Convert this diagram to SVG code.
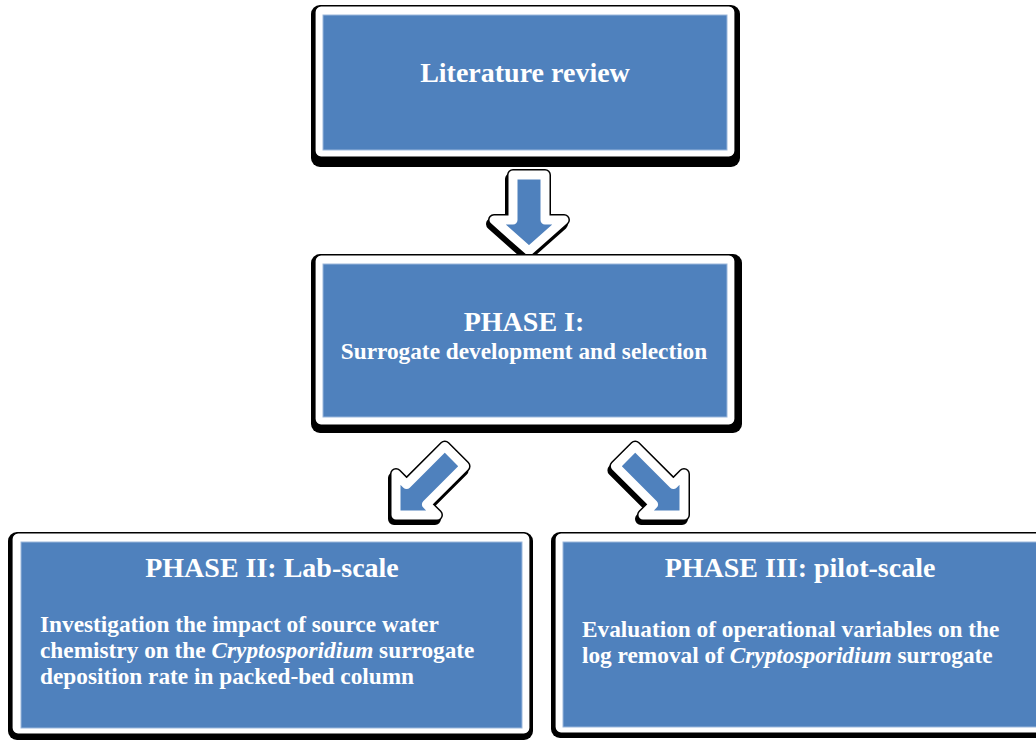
<svg xmlns="http://www.w3.org/2000/svg" width="1036" height="740" viewBox="0 0 1036 740">
  <defs>
    <style>
      .shadow { fill: #000; }
      .frame { fill: #fff; stroke: #000; stroke-width: 1.2; }
      .panel { fill: #4f81bd; stroke: #9bb7dc; stroke-width: 1; }
      .title { font-family: "Liberation Serif", "Times New Roman", serif; font-weight: bold; font-size: 28px; fill: #fff; text-anchor: middle; }
      .sub { font-family: "Liberation Serif", "Times New Roman", serif; font-weight: bold; font-size: 23.3px; fill: #fff; }
      .mid { text-anchor: middle; }
      .it { font-style: italic; }
      .arr-sh { fill: #000; stroke: #000; stroke-width: 12; stroke-linejoin: round; }
      .arr-line { fill: none; stroke: #000; stroke-width: 12; stroke-linejoin: round; }
      .arr { fill: #4f81bd; stroke: #fff; stroke-width: 9; stroke-linejoin: round; }
    </style>
    <path id="diag" d="M396,515 L437,515 L426.4,504.4 L464.6,466.2 L444.8,446.4 L406.6,484.6 L396,474 Z"/>
    <path id="down" d="M513,175 L545,175 L545,220 L564,220 L529,251 L494,220 L513,220 Z"/>
  </defs>
  <rect width="1036" height="740" fill="#fff"/>

  <g id="connectors">
    <g id="arrow-lit-phase1">
      <use href="#down" class="arr-sh" transform="translate(-2,4)"/>
      <use href="#down" class="arr-line"/>
      <use href="#down" class="arr"/>
    </g>
    <g id="arrow-phase1-phase2">
      <use href="#diag" class="arr-sh" transform="translate(-2,4)"/>
      <use href="#diag" class="arr-line"/>
      <use href="#diag" class="arr"/>
    </g>
    <g id="arrow-phase1-phase3">
      <use href="#diag" class="arr-sh" transform="translate(1078,4) scale(-1,1)"/>
      <use href="#diag" class="arr-line" transform="translate(1080,0) scale(-1,1)"/>
      <use href="#diag" class="arr" transform="translate(1080,0) scale(-1,1)"/>
    </g>
  </g>

  <g id="node-literature">
    <rect class="shadow" x="311" y="5" width="429" height="162" rx="9"/>
    <rect class="frame" x="315" y="6" width="420" height="151" rx="6"/>
    <rect class="panel" x="323" y="15" width="404" height="135"/>
    <text class="title" x="525" y="82">Literature review</text>
  </g>

  <g id="node-phase1">
    <rect class="shadow" x="311" y="254" width="431" height="179" rx="9"/>
    <rect class="frame" x="315" y="255" width="420" height="170" rx="6"/>
    <rect class="panel" x="323" y="264" width="404" height="153"/>
    <text class="title" x="524" y="331">PHASE I:</text>
    <text class="sub mid" x="524" y="359">Surrogate development and selection</text>
  </g>

  <g id="node-phase2">
    <rect class="shadow" x="8" y="532" width="525" height="208" rx="9"/>
    <rect class="frame" x="12" y="533" width="518" height="201" rx="6"/>
    <rect class="panel" x="21" y="542" width="501" height="186"/>
    <text class="title" x="272" y="577">PHASE II: Lab-scale</text>
    <text class="sub" x="40" y="632">Investigation the impact of source water</text>
    <text class="sub" x="40" y="658">chemistry on the <tspan class="it">Cryptosporidium</tspan> surrogate</text>
    <text class="sub" x="40" y="684">deposition rate in packed-bed column</text>
  </g>

  <g id="node-phase3">
    <rect class="shadow" x="551" y="532" width="510" height="206" rx="9"/>
    <rect class="frame" x="555" y="533" width="500" height="200" rx="6"/>
    <rect class="panel" x="563" y="542" width="500" height="185"/>
    <text class="title" x="800" y="577">PHASE III: pilot-scale</text>
    <text class="sub" x="582" y="637">Evaluation of operational variables on the</text>
    <text class="sub" x="582" y="663">log removal of <tspan class="it">Cryptosporidium</tspan> surrogate</text>
  </g>
</svg>
